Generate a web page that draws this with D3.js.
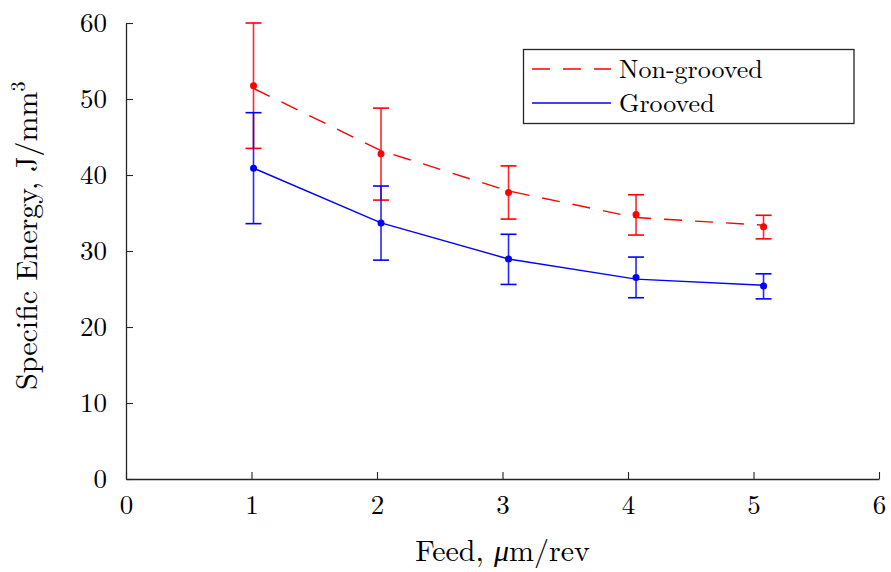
<!DOCTYPE html>
<html>
<head>
<meta charset="utf-8">
<script src="https://cdn.jsdelivr.net/npm/d3@7"></script>
<style>
  html, body { margin: 0; padding: 0; background: #fff; }
  svg { display: block; }
  text { font-family: "Latin Modern Roman", "CMU Serif", "Liberation Serif", serif; fill: #000; }
</style>
</head>
<body>
<svg id="chart" width="891" height="572"></svg>
<script>
// Feed rates (µm/rev) at which specific energy was measured
const feed = [1.016, 2.032, 3.048, 4.064, 5.08];

// Non-grooved wheel: measured points, error-bar limits and trend line
const nonGroovedMean  = [51.75, 42.8, 37.7, 34.8, 33.2];
const nonGroovedHigh  = [60.0, 48.8, 41.2, 37.4, 34.7];
const nonGroovedLow   = [43.5, 36.7, 34.2, 32.1, 31.6];
const nonGroovedTrend = [51.4, 43.2, 37.9, 34.4, 33.4];

// Grooved wheel
const groovedMean  = [40.9, 33.7, 28.95, 26.5, 25.4];
const groovedHigh  = [48.2, 38.55, 32.2, 29.2, 27.0];
const groovedLow   = [33.6, 28.8, 25.6, 23.85, 23.7];
const groovedTrend = [40.9, 33.7, 28.95, 26.3, 25.5];

const xTicks = [0, 1, 2, 3, 4, 5, 6];
const yTicks = [0, 10, 20, 30, 40, 50, 60];
const legendLabels = ["Non-grooved", "Grooved"];

const svg = d3.select("#chart");
const x = d3.scaleLinear().domain([0, 6]).range([126, 879]);
const y = d3.scaleLinear().domain([0, 60]).range([479, 23]);

const axisColor = "#262626";

// Axes with inward ticks
const xAxis = svg.append("g").attr("transform", `translate(0,${y(0)})`)
  .call(d3.axisBottom(x).tickValues(xTicks).tickFormat(d3.format("d"))
    .tickSizeInner(-7).tickSizeOuter(0).tickPadding(16));
const yAxis = svg.append("g").attr("transform", `translate(${x(0)},0)`)
  .call(d3.axisLeft(y).tickValues(yTicks).tickFormat(d3.format("d"))
    .tickSizeInner(-7).tickSizeOuter(0).tickPadding(19));

[xAxis, yAxis].forEach(g => {
  g.select(".domain").attr("stroke", axisColor).attr("stroke-width", 1.3);
  g.selectAll(".tick line").attr("stroke", axisColor).attr("stroke-width", 1.1);
  g.selectAll(".tick text")
    .attr("font-size", 27)
    .attr("font-family", "'Latin Modern Roman', 'CMU Serif', 'Liberation Serif', serif")
    .attr("fill", "#000");
});

const series = [
  { name: legendLabels[0], color: "#ff0000", dash: "18,13", mean: nonGroovedMean, hi: nonGroovedHigh, lo: nonGroovedLow, trend: nonGroovedTrend },
  { name: legendLabels[1], color: "#0000ff", dash: null, mean: groovedMean, hi: groovedHigh, lo: groovedLow, trend: groovedTrend }
];

const line = d3.line().x(d => x(d[0])).y(d => y(d[1]));
const capHalf = 8;

series.forEach(s => {
  const g = svg.append("g");
  // trend line
  g.append("path")
    .datum(feed.map((f, i) => [f, s.trend[i]]))
    .attr("d", line)
    .attr("fill", "none")
    .attr("stroke", s.color)
    .attr("stroke-width", 1.4)
    .attr("stroke-dasharray", s.dash);
  // error bars
  const eb = g.selectAll(".eb").data(feed.map((f, i) => ({ f, hi: s.hi[i], lo: s.lo[i] })))
    .join("g");
  eb.append("line")
    .attr("x1", d => x(d.f)).attr("x2", d => x(d.f))
    .attr("y1", d => y(d.hi)).attr("y2", d => y(d.lo))
    .attr("stroke", s.color).attr("stroke-width", 1.6).attr("stroke-opacity", 0.85);
  ["hi", "lo"].forEach(k => {
    eb.append("line")
      .attr("x1", d => x(d.f) - capHalf).attr("x2", d => x(d.f) + capHalf)
      .attr("y1", d => y(d[k])).attr("y2", d => y(d[k]))
      .attr("stroke", s.color).attr("stroke-width", 1.6);
  });
  // measured points
  g.selectAll("circle").data(feed.map((f, i) => [f, s.mean[i]]))
    .join("circle")
    .attr("cx", d => x(d[0])).attr("cy", d => y(d[1]))
    .attr("r", 3.5).attr("fill", s.color);
});

// Legend
const lg = svg.append("g");
lg.append("rect")
  .attr("x", 523.5).attr("y", 49.5).attr("width", 330.5).attr("height", 74)
  .attr("fill", "#fff").attr("stroke", axisColor).attr("stroke-width", 1.3);
series.forEach((s, i) => {
  const yy = 69 + i * 34;
  lg.append("line")
    .attr("x1", 532).attr("x2", 611).attr("y1", yy).attr("y2", yy)
    .attr("stroke", s.color).attr("stroke-width", 1.4)
    .attr("stroke-dasharray", s.dash);
  lg.append("text")
    .attr("x", 619).attr("y", yy + 9)
    .attr("font-size", 26)
    .text(s.name);
});

// Axis titles
const xt = svg.append("text")
  .attr("x", x(3)).attr("y", 561)
  .attr("text-anchor", "middle")
  .attr("font-size", 30);
xt.append("tspan").text("Feed, ");
xt.append("tspan").attr("font-style", "italic").text("μ");
xt.append("tspan").text("m/rev");

const yt = svg.append("text")
  .attr("transform", `translate(37,${y(32)}) rotate(-90)`)
  .attr("text-anchor", "middle")
  .attr("font-size", 30);
yt.append("tspan").text("Specific Energy, J/mm");
yt.append("tspan").attr("font-size", 20).attr("dy", -12).text("3");
</script>
</body>
</html>
